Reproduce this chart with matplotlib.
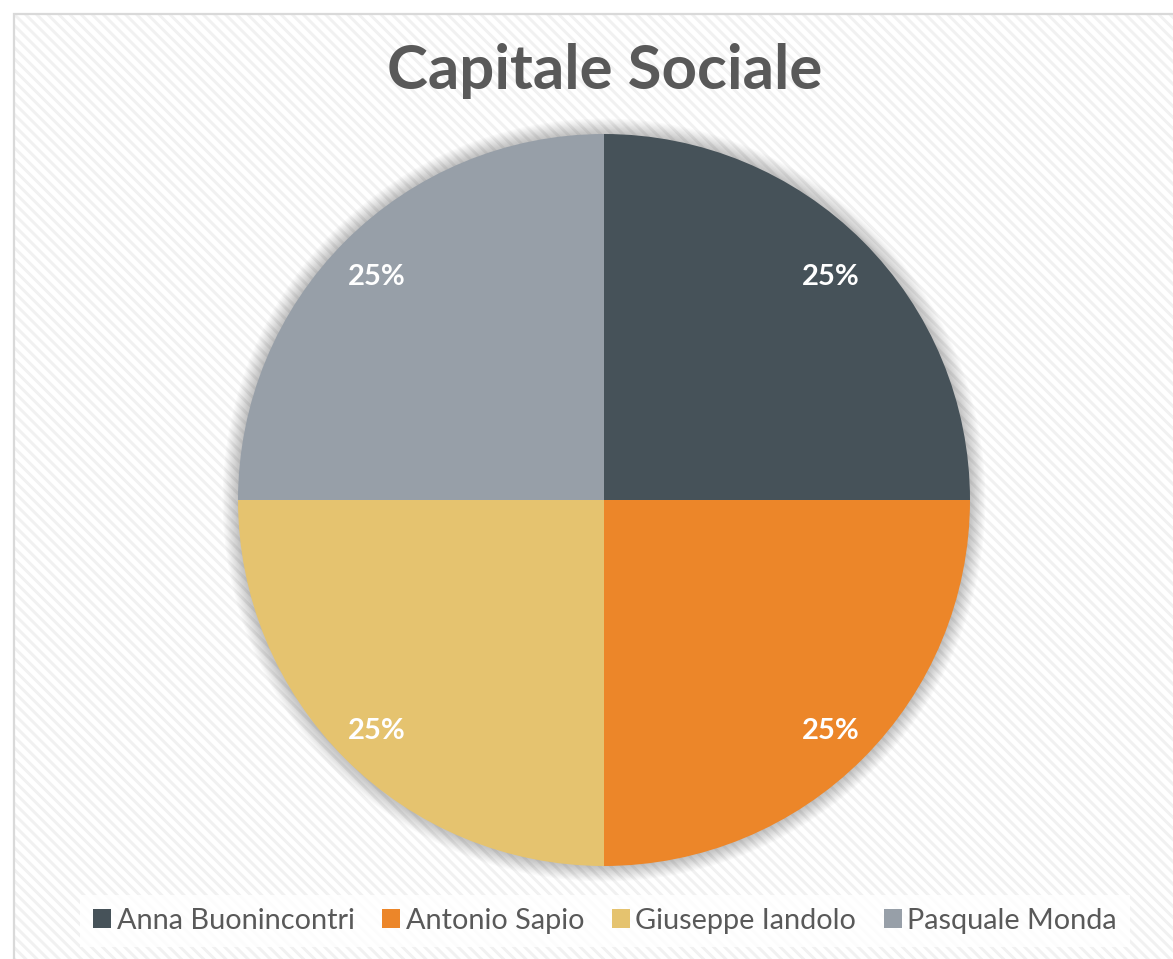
import matplotlib
matplotlib.use("Agg")
import matplotlib.pyplot as plt
import matplotlib.transforms as mtransforms
from matplotlib.patches import Rectangle, Circle, Patch

title = "Capitale Sociale"
names = ["Anna Buonincontri", "Antonio Sapio", "Giuseppe Iandolo", "Pasquale Monda"]
shares = [25, 25, 25, 25]
colors = ["#465259", "#EC8629", "#E5C36F", "#979FA8"]

W, H = 1173, 959
plt.rcParams["hatch.linewidth"] = 2.1
plt.rcParams["hatch.color"] = "#f1f1f1"

fig = plt.figure(figsize=(W / 100, H / 100), dpi=100)
fig.patch.set_facecolor("white")

# chart area with subtle diagonal stripes and border
bg = Rectangle((13 / W, -0.05), 1.1, 1 - 13 / H + 0.05, transform=fig.transFigure,
               facecolor="white", edgecolor="#f1f1f1", linewidth=0,
               hatch="\\\\\\", zorder=-5)
fig.patches.append(bg)
border = Rectangle((14 / W, -0.05), 1.1, 1 - 14 / H + 0.05, transform=fig.transFigure,
                   facecolor="none", edgecolor="#d9d9d9", linewidth=1.6, zorder=-4)
fig.patches.append(border)

cx, cy, R = 604, 500, 366
ax = fig.add_axes([(cx - R) / W, (H - cy - R) / H, 2 * R / W, 2 * R / H])
ax.set_zorder(1)
ax.axis("off")
ax.patch.set_alpha(0)

# soft shadow
for i in range(12):
    r = 1.0 + 0.0035 * (i + 1)
    ax.add_patch(Circle((0.0, 0.0), r, facecolor="#000000", alpha=0.018,
                        edgecolor="none", zorder=0, clip_on=False))

wedges, texts, autotexts = ax.pie(
    shares, colors=colors, startangle=90, counterclock=False, radius=1.0,
    autopct="%1.0f%%", pctdistance=0.877,
    wedgeprops=dict(linewidth=0),
)
shift = mtransforms.ScaledTranslation(0, -4 / 100, fig.dpi_scale_trans)
for w in wedges:
    w.set_zorder(2)
for t in autotexts:
    t.set_zorder(3)
    t.set_color("white")
    t.set_fontfamily("Lato")
    t.set_fontweight("bold")
    t.set_fontsize(21)
    t.set_transform(t.get_transform() + shift)
ax.set_xlim(-1, 1)
ax.set_ylim(-1, 1)
ax.set_aspect("equal")

fig.text(605 / W, 1 - 71 / H, title, ha="center", va="center",
         fontweight="bold", color="#595959", family="Lato", fontsize=44.5)

handles = [Patch(facecolor=c, edgecolor="none") for c in colors]
leg = fig.legend(handles, names, loc="center", bbox_to_anchor=(605 / W, 1 - 921 / H),
                 ncol=4, frameon=True, fancybox=False,
                 prop=dict(family="Lato", size=20.8),
                 handlelength=0.62, handleheight=0.62, handletextpad=0.2,
                 columnspacing=0.95, borderpad=0.45, borderaxespad=0)
leg.get_frame().set_facecolor("white")
leg.get_frame().set_alpha(0.85)
leg.get_frame().set_edgecolor("none")
for t in leg.get_texts():
    t.set_color("#595959")

fig.savefig("out.png", dpi=100, facecolor="white")
